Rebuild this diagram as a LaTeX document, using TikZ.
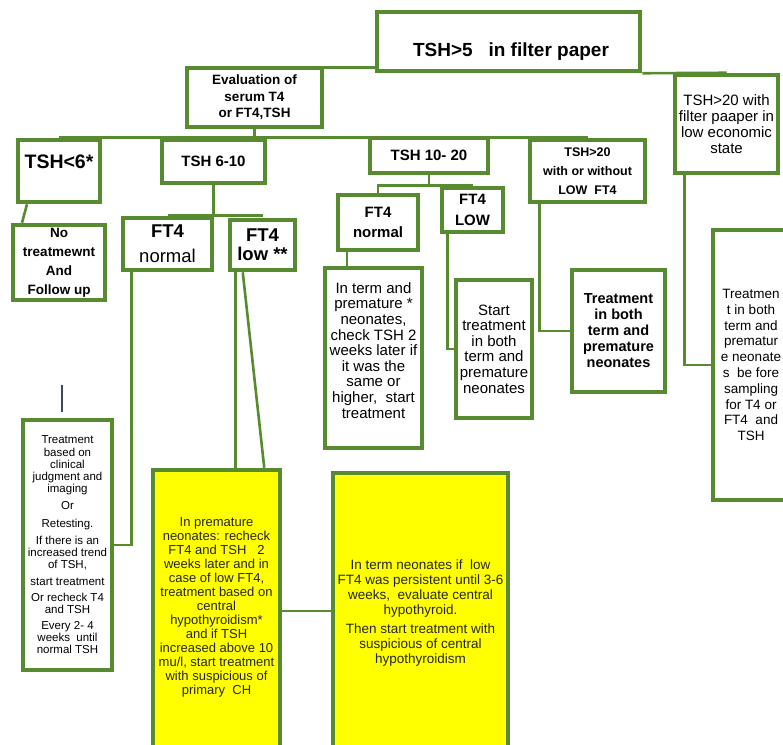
\documentclass[tikz,border=0pt]{standalone}
\usepackage{fontspec}
\setmainfont{Liberation Sans}
\usepackage{xcolor}
\usetikzlibrary{positioning}
\definecolor{BoxGreen}{RGB}{88,138,48}
\definecolor{NoteYellow}{RGB}{255,255,0}
\definecolor{StraySlate}{RGB}{55,75,90}
\newcommand\fsz[2]{\fontsize{#1pt}{#2pt}\selectfont}
\tikzset{
  box/.style={draw=BoxGreen, line width=4.5pt, fill=white, inner sep=0pt, align=center, text=black},
  yelbox/.style={box, fill=NoteYellow, text=black!85},
  conn/.style={draw=BoxGreen, line width=2.6pt},
  strayline/.style={draw=StraySlate, line width=1.8pt},
}
\begin{document}
\begin{tikzpicture}[x=1pt, y=-1pt]
  \useasboundingbox (0,0) rectangle (783,744);
  \clip (0,0) rectangle (783,744);
  \fill[white] (0,0) rectangle (783,744);
  % first levels
  \node[box, minimum width=263pt, minimum height=59pt] (top) at (508.5,41.5) {};
  \node[font=\fsz{19}{22}\bfseries, inner sep=0pt] (toplbl) at (511,52) {TSH>5\ \ \ in filter paper};
  \node[box, minimum width=135pt, minimum height=59pt, font=\fsz{13.5}{16.5}\bfseries] (eval) at (254.5,97.5)
    {Evaluation of\\serum T4\\or FT4,TSH};
  \node[box, minimum width=103pt, minimum height=98pt, font=\fsz{15}{16}] (rt) at (726.5,124)
    {TSH>20 with\\filter paaper in\\low economic\\state};
  \node[box, minimum width=82pt, minimum height=62pt, font=\fsz{19.5}{22}\bfseries] (lt6) at (59,171) {TSH<6*\\[-4pt]\mbox{}};
  \node[box, minimum width=103pt, minimum height=43pt, font=\fsz{15}{18}\bfseries] (t610) at (213.5,161.5) {TSH 6-10};
  \node[box, minimum width=118pt, minimum height=35pt, font=\fsz{15}{18}\bfseries] (t1020) at (429,155.5) {TSH 10- 20};
  \node[box, minimum width=115pt, minimum height=62pt, font=\fsz{12.5}{19}\bfseries] (gt20) at (587.5,171)
    {TSH>20\\with or without\\LOW\ \ FT4};
  % second levels
  \node[box, minimum width=92pt, minimum height=75pt, font=\fsz{13.5}{19}\bfseries] (nt) at (59,262.5)
    {No\\treatmewnt\\And\\Follow up};
  \node[box, minimum width=89pt, minimum height=52pt, font=\fsz{18.5}{25}] (fn1) at (167.5,244)
    {\textbf{FT4}\\normal};
  \node[box, minimum width=65pt, minimum height=50pt, font=\fsz{18.5}{19}\bfseries] (fl1) at (262.5,245)
    {FT4\\low **};
  \node[box, minimum width=80pt, minimum height=55pt, font=\fsz{15}{20}\bfseries] (fn2) at (378,222.5)
    {FT4\\normal};
  \node[box, minimum width=61pt, minimum height=44pt, font=\fsz{15}{21}\bfseries] (fl2) at (472.5,210)
    {FT4\\LOW};
  % outcomes
  \node[box, minimum width=97pt, minimum height=180pt, font=\fsz{15}{15.6}] (itp) at (373.5,358)
    {In term and\\premature *\\neonates,\\check TSH 2\\weeks later if\\it was the\\same or\\higher,\ \ start\\treatment\\\mbox{}};
  \node[box, minimum width=76pt, minimum height=138pt, font=\fsz{15}{15.6}] (st) at (494,349)
    {Start\\treatment\\in both\\term and\\premature\\neonates};
  \node[box, minimum width=93pt, minimum height=122pt, font=\fsz{14.5}{16}\bfseries] (tb) at (618.5,331)
    {Treatment\\in both\\term and\\premature\\neonates};
  \node[box, minimum width=76pt, minimum height=270pt, font=\fsz{13.5}{15.8}] (rtall) at (751,365)
    {Treatmen\\t in both\\term and\\prematur\\e neonate\\s\ \ be fore\\sampling\\for T4 or\\FT4\ \ and\\TSH};
  \node[box, minimum width=89pt, minimum height=250pt, font=\fsz{11.5}{12.2}] (tj) at (67.5,545)
    {Treatment\\based on\\clinical\\judgment and\\imaging\\[5pt]Or\\[5pt]Retesting.\\[5pt]If there is an\\increased trend\\of TSH,\\[5pt]start treatment\\[3pt]Or recheck T4\\and TSH\\[4pt]Every 2- 4\\weeks\ \ until\\normal TSH};
  \node[yelbox, minimum width=127pt, minimum height=282pt, font=\fsz{13}{14}] (y1) at (216.5,611)
    {In premature\\neonates: recheck\\FT4 and TSH\ \ \ 2\\weeks later and in\\case of low FT4,\\treatment based on\\central\\hypothyroidism*\\and if TSH\\increased above 10\\mu/l, start treatment\\with suspicious of\\primary\ \ CH\\[-4pt]\mbox{}};
  \node[yelbox, minimum width=175pt, minimum height=279pt, font=\fsz{13.5}{15}] (y2) at (420.5,612.5)
    {In term neonates if\ \ low\\FT4 was persistent until 3-6\\weeks,\ \ evaluate central\\hypothyroid.\\[4pt]Then start treatment with\\suspicious of central\\hypothyroidism};
  % connectors
  \draw[conn] ([yshift=-2pt]eval.north east) -- ([yshift=-2pt]eval.north east -| top.west);
  \draw[conn] (top.south east) -- (rt.north);
  \draw[conn] (eval.south) -- (eval.south |- t610.north);
  \draw[conn] (lt6.north) -- (gt20.north);
  \draw[conn] ([xshift=-32pt]lt6.south) -- ([xshift=-37pt]nt.north);
  \draw[conn] (t610.south) -- (t610.south |- fn1.north);
  \draw[conn] (fn1.north) -- (fn1.north -| fl1.north);
  \draw[conn] ([xshift=11pt]fn1.south west) |- (tj.east);
  \draw[conn] ([xshift=8pt]fl1.south west) -- ([xshift=8pt]fl1.south west |- y1.north);
  \draw[conn] ([xshift=15pt]fl1.south west) -- ([xshift=-18pt]y1.north east);
  \draw[conn] (y1.east) -- (y1.east -| y2.west);
  \coordinate (j1020) at (t1020.south |- fl2.north);
  \draw[conn] (t1020.south) -- (j1020) -| (fn2.north);
  \draw[conn] (j1020) -- (fl2.north);
  \draw[conn] ([xshift=-31pt]fn2.south) -- ([xshift=-31pt]fn2.south |- itp.north);
  \draw[conn] ([xshift=8pt]fl2.south west) |- (st.west);
  \draw[conn] ([xshift=12pt]gt20.south west) |- (tb.west);
  \draw[conn] ([xshift=12pt]rt.south west) |- (rtall.west);
  \coordinate (strayend) at (62,412);
  \draw[strayline] (strayend) -- ++(0,-27);
\end{tikzpicture}
\end{document}
